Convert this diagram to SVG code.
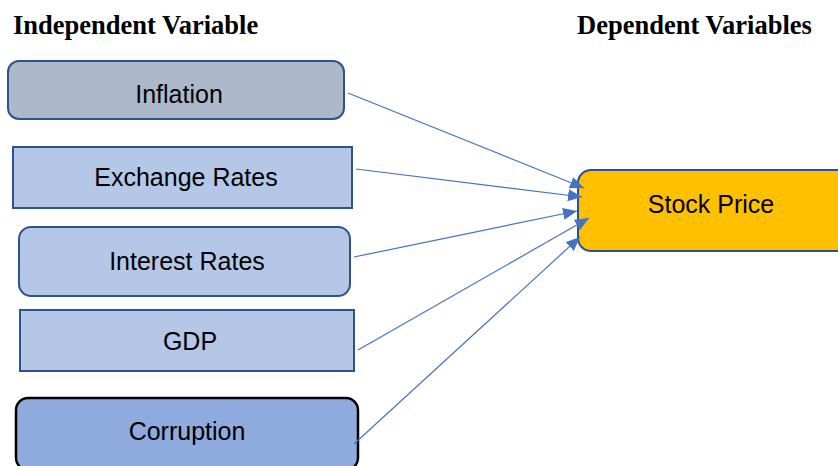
<svg xmlns="http://www.w3.org/2000/svg" width="838" height="466" viewBox="0 0 838 466">
<style>
.box{stroke:#2F528F;stroke-width:2}
.lbl{font-family:"Liberation Sans",Arial,sans-serif;font-size:25px;fill:#000;text-anchor:middle}
.hdr{font-family:"Liberation Serif","Times New Roman",serif;font-size:26.5px;font-weight:bold;fill:#000}
.conn{stroke:#4472C4;stroke-width:1.2;fill:none;marker-end:url(#ah)}
</style>
<defs>
<marker id="ah" markerUnits="userSpaceOnUse" markerWidth="16" markerHeight="14" refX="14" refY="6" orient="auto">
<path d="M0,0 L14,6 L0,12 Z" fill="#4472C4"/>
</marker>
</defs>
<rect width="838" height="466" fill="#fff"/>
<text class="hdr" x="13" y="34">Independent Variable</text>
<text class="hdr" x="577" y="34">Dependent Variables</text>
<g id="inflation">
<rect class="box" x="8" y="61" width="336" height="58" rx="11" fill="#ADB9CA"/>
<text class="lbl" x="179" y="103">Inflation</text>
</g>
<g id="exchange-rates">
<rect class="box" x="13" y="147" width="339" height="61" fill="#B4C7E7"/>
<text class="lbl" x="186" y="186">Exchange Rates</text>
</g>
<g id="interest-rates">
<rect class="box" x="19" y="227" width="331" height="69" rx="12" fill="#B4C7E7"/>
<text class="lbl" x="187" y="270">Interest Rates</text>
</g>
<g id="gdp">
<rect class="box" x="20" y="310" width="334" height="61" fill="#B4C7E7"/>
<text class="lbl" x="190" y="350">GDP</text>
</g>
<g id="corruption">
<rect x="16" y="398" width="342" height="72" rx="12" fill="#8FAADC" stroke="#000" stroke-width="2.5"/>
<text class="lbl" x="187" y="440">Corruption</text>
</g>
<g id="stock-price">
<rect class="box" x="578" y="170" width="275" height="81" rx="13" fill="#FFC000"/>
<text class="lbl" x="711" y="213">Stock Price</text>
</g>
<g id="connectors">
<line class="conn" x1="348" y1="93" x2="584" y2="188"/>
<line class="conn" x1="356" y1="169" x2="582" y2="197"/>
<line class="conn" x1="354" y1="257" x2="577" y2="211"/>
<line class="conn" x1="358" y1="350" x2="589" y2="218"/>
<line class="conn" x1="354" y1="444" x2="580" y2="237"/>
</g>
</svg>
